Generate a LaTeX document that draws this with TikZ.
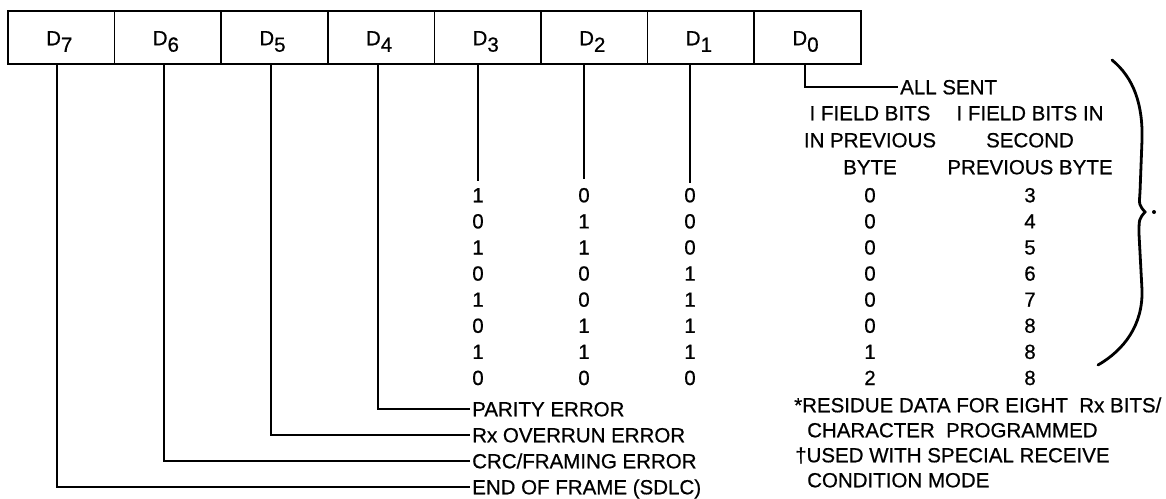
\documentclass[tikz,border=0pt]{standalone}
\usepackage{fontspec}
\setmainfont{Liberation Sans}
\newfontfamily\diagfont[FakeBold=0.6]{Liberation Sans}
\newcommand{\Dsub}[1]{D\raisebox{-6.5pt}{#1}}
\begin{document}
\begin{tikzpicture}[x=1pt,y=-1pt,
  every node/.style={font=\diagfont\fontsize{20.5}{24}\selectfont},
  cell/.style={draw,line width=1.7pt,minimum width=106.6pt,minimum height=53pt,inner sep=0pt,outer sep=0pt},
  lbl/.style={anchor=west,inner sep=2pt,text height=14.6pt,text depth=0pt},
  dig/.style={inner sep=2pt,text height=14.6pt,text depth=0pt},
  hdr/.style={inner sep=1pt,text height=14.6pt,text depth=0pt},
  note/.style={anchor=west,inner sep=1pt,text height=14.6pt,text depth=0pt},
  wire/.style={line width=1.6pt},
  bracestyle/.style={line width=2.8pt,line cap=round}]
\useasboundingbox (0,0) rectangle (1166,498);
% register cells
\foreach \i/\lab in {0/7,1/6,2/5,3/4,4/3,5/2,6/1,7/0}{
  \node[cell] (c\lab) at ({8+53.3+106.6*\i},37.5) {};
  \node (l\lab) at ([xshift=-2pt,yshift=-4pt]c\lab.center) {\Dsub{\lab}};
}
% line start points on the box bottom
\coordinate (t7) at (57,64);
\coordinate (t6) at (164,64);
\coordinate (t5) at (271,64);
\coordinate (t4) at (378,64);
\coordinate (t3) at (478,64);
\coordinate (t2) at (584,64);
\coordinate (t1) at (690,64);
\coordinate (t0) at (805,64);
% ALL SENT
\node[lbl] (all) at (898,87) {ALL SENT};
\draw[wire] (t0) |- (all.west);
% column headers
\node[hdr] (ha1) at (870,113) {I FIELD BITS};
\node[hdr] (ha2) at (870,140) {IN PREVIOUS};
\node[hdr] (ha3) at (870,167) {BYTE};
\node[hdr] (hb1) at (1030,113) {I FIELD BITS IN};
\node[hdr] (hb2) at (1030,140) {SECOND};
\node[hdr] (hb3) at (1030,167) {PREVIOUS BYTE};
% table rows
\foreach \r/\a/\b/\c/\d/\e in {1/1/0/0/0/3,2/0/1/0/0/4,3/1/1/0/0/5,4/0/0/1/0/6,5/1/0/1/0/7,6/0/1/1/0/8,7/1/1/1/1/8,8/0/0/0/2/8}{
  \node[dig] (r\r a) at (478,{195+26.1*(\r-1)}) {\a};
  \node[dig] (r\r b) at (584,{195+26.1*(\r-1)}) {\b};
  \node[dig] (r\r c) at (690,{195+26.1*(\r-1)}) {\c};
  \node[dig] (r\r d) at (870,{195+26.1*(\r-1)}) {\d};
  \node[dig] (r\r e) at (1030,{195+26.1*(\r-1)}) {\e};
}
\draw[wire,shorten >=5pt] (t3) -- (r1a.north);
\draw[wire,shorten >=7pt] (t2) -- (r1b.north);
\draw[wire,shorten >=3pt] (t1) -- (r1c.north);
% error labels
\node[lbl] (par) at (470,409) {PARITY ERROR};
\node[lbl] (ovr) at (470,435) {Rx OVERRUN ERROR};
\node[lbl] (crc) at (470,461) {CRC/FRAMING ERROR};
\node[lbl] (eof) at (470,487) {END OF FRAME (SDLC)};
\draw[wire] (t4) |- (par.west);
\draw[wire] (t5) |- (ovr.west);
\draw[wire] (t6) |- (crc.west);
\draw[wire] (t7) |- (eof.west);
% footnotes
\node[note] (n1) at (793,405) {*RESIDUE DATA FOR EIGHT\ \ Rx BITS/};
\node[note] (n2) at (806,430) {CHARACTER\ \ PROGRAMMED};
\node[note] (n3) at (794,455) {†USED WITH SPECIAL RECEIVE};
\node[note] (n4) at (806,480) {CONDITION MODE};
% brace
\draw[bracestyle] (1112,60) .. controls (1134,78) and (1143,105) .. (1142,140)
  -- (1140,192) .. controls (1139,205) .. (1145,212)
  .. controls (1139,219) .. (1139,234)
  -- (1142,290) .. controls (1143,325) and (1124,350) .. (1098,365);
\fill (1154,212) circle (2pt);
\end{tikzpicture}
\end{document}
